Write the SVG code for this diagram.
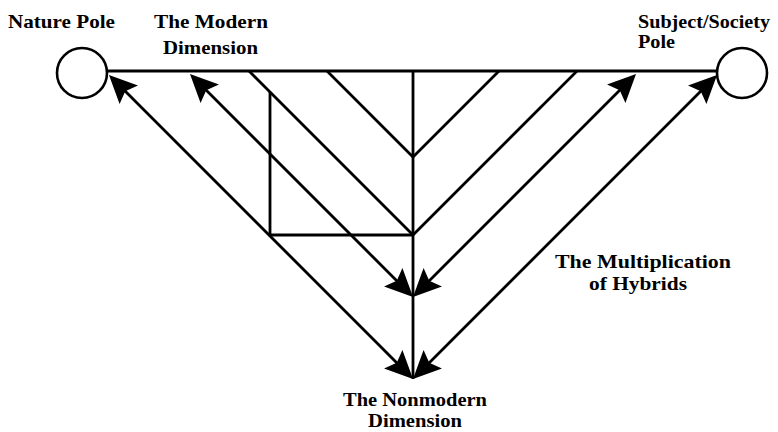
<svg xmlns="http://www.w3.org/2000/svg" width="778" height="432" viewBox="0 0 778 432">
<style>
.ln{stroke:#000;stroke-width:2.8;fill:none;stroke-linecap:butt}
.pole{stroke:#000;stroke-width:2.6;fill:#fff}
.lbl{font-family:"Liberation Serif","Times New Roman",serif;font-weight:bold;font-size:19px;fill:#000}
</style>
<defs>
<marker id="ah" markerUnits="userSpaceOnUse" viewBox="0 0 28 26" markerWidth="28" markerHeight="26" refX="24" refY="13" orient="auto-start-reverse">
<path d="M0,0 L28,13 L0,26 L5,13 Z" fill="#000"/>
</marker>
</defs>
<g id="connectors">
<line class="ln" x1="106" y1="71" x2="717" y2="71"/>
<line class="ln" x1="413" y1="71" x2="413" y2="379"/>
<polyline class="ln" points="327,71 413,157 499,71"/>
<polyline class="ln" points="249,71 413,235 577,71"/>
<polyline class="ln" points="270,92 270,235 413,235"/>
<line class="ln" x1="111.8" y1="77.8" x2="410.2" y2="376.2" marker-start="url(#ah)" marker-end="url(#ah)"/>
<line class="ln" x1="192.8" y1="76.8" x2="410.2" y2="294.2" marker-start="url(#ah)" marker-end="url(#ah)"/>
<line class="ln" x1="633.2" y1="76.8" x2="415.8" y2="294.2" marker-start="url(#ah)" marker-end="url(#ah)"/>
<line class="ln" x1="714.2" y1="77.8" x2="415.8" y2="376.2" marker-start="url(#ah)" marker-end="url(#ah)"/>
</g>
<g id="nature-pole">
<circle class="pole" cx="82" cy="73" r="25"/>
<text class="lbl" x="8" y="28" textLength="107" lengthAdjust="spacingAndGlyphs">Nature Pole</text>
</g>
<g id="modern-dimension">
<text class="lbl" x="154" y="28" textLength="114" lengthAdjust="spacingAndGlyphs">The Modern</text>
<text class="lbl" x="163" y="54" textLength="95" lengthAdjust="spacingAndGlyphs">Dimension</text>
</g>
<g id="society-pole">
<circle class="pole" cx="742" cy="73" r="25"/>
<text class="lbl" x="638" y="28" textLength="132" lengthAdjust="spacingAndGlyphs">Subject/Society</text>
<text class="lbl" x="638" y="48" textLength="37" lengthAdjust="spacingAndGlyphs">Pole</text>
</g>
<g id="hybrids">
<text class="lbl" x="555" y="268" textLength="176" lengthAdjust="spacingAndGlyphs">The Multiplication</text>
<text class="lbl" x="589" y="290" textLength="98" lengthAdjust="spacingAndGlyphs">of Hybrids</text>
</g>
<g id="nonmodern-dimension">
<text class="lbl" x="343" y="406" textLength="144" lengthAdjust="spacingAndGlyphs">The Nonmodern</text>
<text class="lbl" x="368" y="427" textLength="94" lengthAdjust="spacingAndGlyphs">Dimension</text>
</g>
</svg>
